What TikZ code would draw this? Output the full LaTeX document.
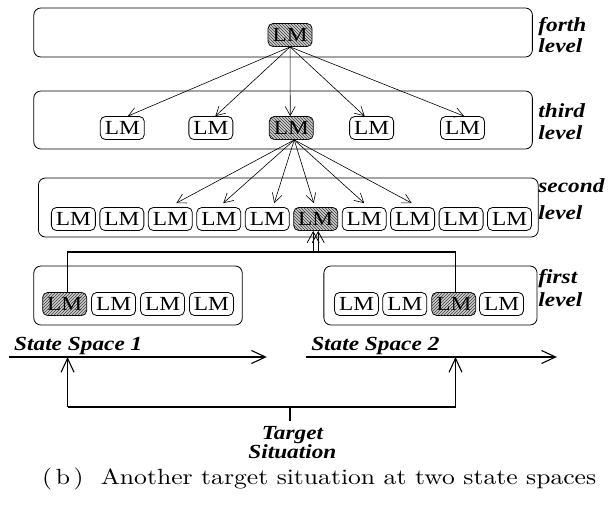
\documentclass[tikz,border=0pt]{standalone}
\usepackage{fontspec}
\newfontfamily\timesfont[FakeStretch=1.165]{Liberation Serif}
\newfontfamily\capfont[FakeStretch=1.165]{lmroman10-regular.otf}
\usetikzlibrary{arrows.meta,patterns}

\tikzset{
  lm/.style={draw, rounded corners=5pt, minimum width=44pt, minimum height=23pt,
    inner sep=0pt, line width=0.8pt, font=\timesfont\fontsize{20}{20}\selectfont},
  hatchnw/.style={fill=gray!40, postaction={pattern=north west lines, pattern color=black!75}},
  hatchne/.style={fill=gray!40, postaction={pattern=north east lines, pattern color=black!75}},
  levelbox/.style={draw, rounded corners=7pt, line width=0.8pt, inner sep=0pt},
  lvltext/.style={anchor=base west, inner sep=0pt,
    font=\timesfont\bfseries\itshape\fontsize{20}{21}\selectfont},
  thin arrow/.style={line width=0.6pt, -{Straight Barb[length=9pt,width=10pt]}},
  join arrow/.style={line width=0.8pt, -{Straight Barb[length=11pt,width=12pt]}},
  thick link/.style={line width=1.5pt},
  big arrow/.style={line width=1.3pt, -{Straight Barb[length=14pt,width=13pt,line width=1.1pt]}},
}

\begin{document}
\begin{tikzpicture}[x=1.165pt,y=-1pt]
\useasboundingbox (0,0) rectangle (522.75,507);

% level frames
\node[levelbox, minimum width=498.6pt, minimum height=49pt] (b4) at (243,32.5) {};
\node[levelbox, minimum width=498.6pt, minimum height=58pt] (b3) at (243,120) {};
\node[levelbox, minimum width=499.8pt, minimum height=59pt] (b2) at (247.5,207.5) {};
\node[levelbox, minimum width=208.5pt, minimum height=59pt] (b1a) at (118.5,295.5) {};
\node[levelbox, minimum width=213.2pt, minimum height=59pt] (b1b) at (369.5,295.5) {};

% level names
\node[lvltext] (n4a) at (462,31) {forth};
\node[lvltext] (n4b) at (462,52) {level};
\node[lvltext] (n3a) at (462,117) {third};
\node[lvltext] (n3b) at (462,139) {level};
\node[lvltext] (n2a) at (462,192) {second};
\node[lvltext] (n2b) at (462,219) {level};
\node[lvltext] (n1a) at (462,283) {first};
\node[lvltext] (n1b) at (462,306) {level};

% forth level
\node[lm, hatchnw] (f) at (249,35) {LM};

% third level
\node[lm] (t1) at (105,128) {LM};
\node[lm] (t2) at (181,128) {LM};
\node[lm, hatchnw] (t3) at (250,128) {LM};
\node[lm] (t4) at (319,128) {LM};
\node[lm] (t5) at (397,128) {LM};

% second level
\foreach \i/\x in {1/63,2/104.6,3/146.2,4/187.8,5/229.4,7/312.6,8/354.2,9/395.8,10/437.4}
  \node[lm] (s\i) at (\x,219) {LM};
\node[lm, hatchnw] (s6) at (271,219) {LM};

% first level, state space 1
\node[lm, hatchne] (l1) at (55.5,304) {LM};
\node[lm] (l2) at (97.5,304) {LM};
\node[lm] (l3) at (139.5,304) {LM};
\node[lm] (l4) at (181.5,304) {LM};

% first level, state space 2
\node[lm] (r1) at (306,304) {LM};
\node[lm] (r2) at (347.5,304) {LM};
\node[lm, hatchne] (r3) at (389.5,304) {LM};
\node[lm] (r4) at (430.5,304) {LM};

% forth -> third
\foreach \t/\dx in {t1/5.5,t2/4.5,t3/-1,t4/-7,t5/1.5}
  \draw[thin arrow] (f.south) -- ([xshift=\dx pt]\t.north);

% third -> second
\foreach \s/\dx in {s3/6,s4/4.5,s5/7,s6/-2,s7/0,s8/-1}
  \draw[thin arrow] ([xshift=3pt]t3.south) -- ([xshift=\dx pt, yshift=4pt]\s.north);

% first -> second (joined)
\coordinate (j) at (271,252);
\draw[thick link] ([xshift=3pt]l1.north) |- (j);
\draw[thick link] ([xshift=1.5pt]r3.north) |- (j);
\draw[join arrow] ([xshift=-2.5pt]j) -- ([xshift=-2.5pt]s6.south);
\draw[join arrow] ([xshift=2.5pt]j) -- ([xshift=2.5pt]s6.south);

% state space axes
\coordinate (a1s) at (8,357);
\coordinate (a1e) at (229,357);
\coordinate (a2s) at (263,357);
\coordinate (a2e) at (478,357);
\draw[big arrow] (a1s) -- (a1e);
\draw[big arrow] (a2s) -- (a2e);
\node[lvltext] (ss1) at (12,350) {State Space 1};
\node[lvltext] (ss2) at (267,350) {State Space 2};

% target situation
\coordinate (p1) at (58,357);
\coordinate (p2) at (391,357);
\coordinate (q1) at (58,407);
\coordinate (q2) at (391,407);
\coordinate (tc) at (249,407);
\coordinate (td) at (249,421);
\draw[big arrow] (q1) -- (p1);
\draw[big arrow] (q2) -- (p2);
\draw[thick link, line width=1.3pt] (q1) -- (q2);
\draw[thick link, line width=1.3pt] (tc) -- (td);
\node[anchor=north, inner sep=0pt, align=center,
  font=\timesfont\bfseries\itshape\fontsize{20}{17}\selectfont] (ts) at (251,426) {Target\\Situation};

% caption
\node[anchor=base, inner sep=0pt, font=\capfont\fontsize{22}{24}\selectfont] (cap) at (274,484)
  {(\,b\,)\ \ Another target situation at two state spaces};
\end{tikzpicture}
\end{document}
